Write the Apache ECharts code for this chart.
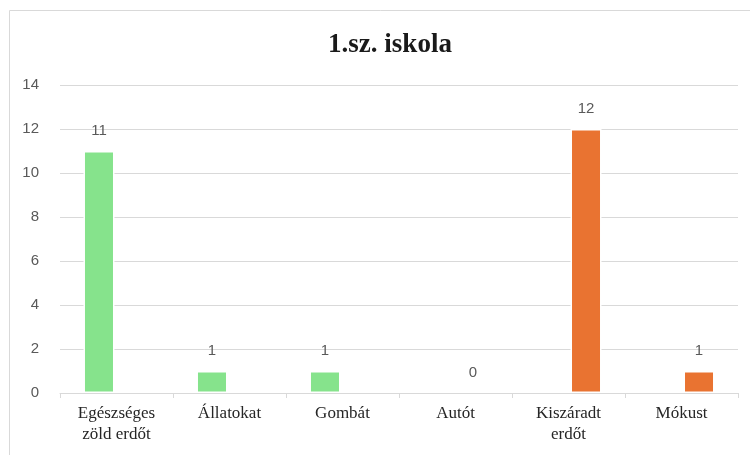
<!DOCTYPE html>
<html lang="hu">
<head>
  <meta charset="UTF-8">
  <title>1.sz. iskola</title>
  <script src="https://cdn.jsdelivr.net/npm/echarts@6/dist/echarts.min.js"></script>
  <style>
    html, body { margin: 0; padding: 0; background: #fff; }
  </style>
</head>
<body>
  <div id="app" style="width: 750px; height: 455px;"></div>
  <script>
    var categories = ['Egészséges\nzöld erdőt', 'Állatokat', 'Gombát', 'Autót', 'Kiszáradt\nerdőt', 'Mókust']
    // two series side by side: green on the left half, orange on the right half
    var greenValues = [11, 1, 1, null, null, null]
    var orangeValues = [null, null, null, 0, 12, 1]
    var yTicks = [0, 2, 4, 6, 8, 10, 12, 14]

    var app = document.querySelector('#app')
    var mCharts = echarts.init(app)

    // zero bars get no white border so the axis line stays visible
    function toItems(arr) {
      return arr.map(function (v) {
        if (v === 0) return { value: v, itemStyle: { borderWidth: 0 } }
        return v
      })
    }

    var labelStyle = {
      show: true,
      position: 'top',
      distance: 13,
      fontFamily: 'Liberation Sans',
      fontSize: 15,
      color: '#595959'
    }

    var option = {
      animation: false,
      title: {
        text: '1.sz. iskola',
        left: 385,
        top: 27,
        textAlign: 'center',
        textStyle: {
          fontFamily: 'Liberation Serif',
          fontWeight: 'bold',
          fontSize: 27,
          color: '#1a1a1a'
        }
      },
      graphic: [
        {
          type: 'rect',
          shape: { x: 9.5, y: 10.5, width: 760, height: 460 },
          style: { fill: 'none', stroke: '#d9d9d9', lineWidth: 1 }
        }
      ],
      grid: {
        left: 60,
        right: 12,
        top: 85,
        bottom: 62
      },
      xAxis: {
        type: 'category',
        data: categories,
        axisLine: { lineStyle: { color: '#d9d9d9' } },
        axisTick: { show: true, length: 5, lineStyle: { color: '#d9d9d9' } },
        axisLabel: {
          fontFamily: 'Liberation Serif',
          fontSize: 17,
          color: '#262626',
          lineHeight: 21,
          margin: 10
        }
      },
      yAxis: {
        type: 'value',
        min: yTicks[0],
        max: yTicks[yTicks.length - 1],
        interval: 2,
        axisLine: { show: false },
        axisTick: { show: false },
        axisLabel: {
          fontFamily: 'Liberation Sans',
          fontSize: 15,
          color: '#595959',
          margin: 21
        },
        splitLine: { lineStyle: { color: '#d9d9d9' } }
      },
      series: [
        {
          type: 'bar',
          name: 'zöld',
          data: toItems(greenValues),
          barWidth: 31,
          barGap: '13%',
          itemStyle: { color: '#86E38C', borderColor: '#fff', borderWidth: 1.5 },
          label: labelStyle
        },
        {
          type: 'bar',
          name: 'narancs',
          data: toItems(orangeValues),
          barWidth: 31,
          itemStyle: { color: '#E97331', borderColor: '#fff', borderWidth: 1.5 },
          label: labelStyle
        }
      ]
    }
    mCharts.setOption(option)
  </script>
</body>
</html>
